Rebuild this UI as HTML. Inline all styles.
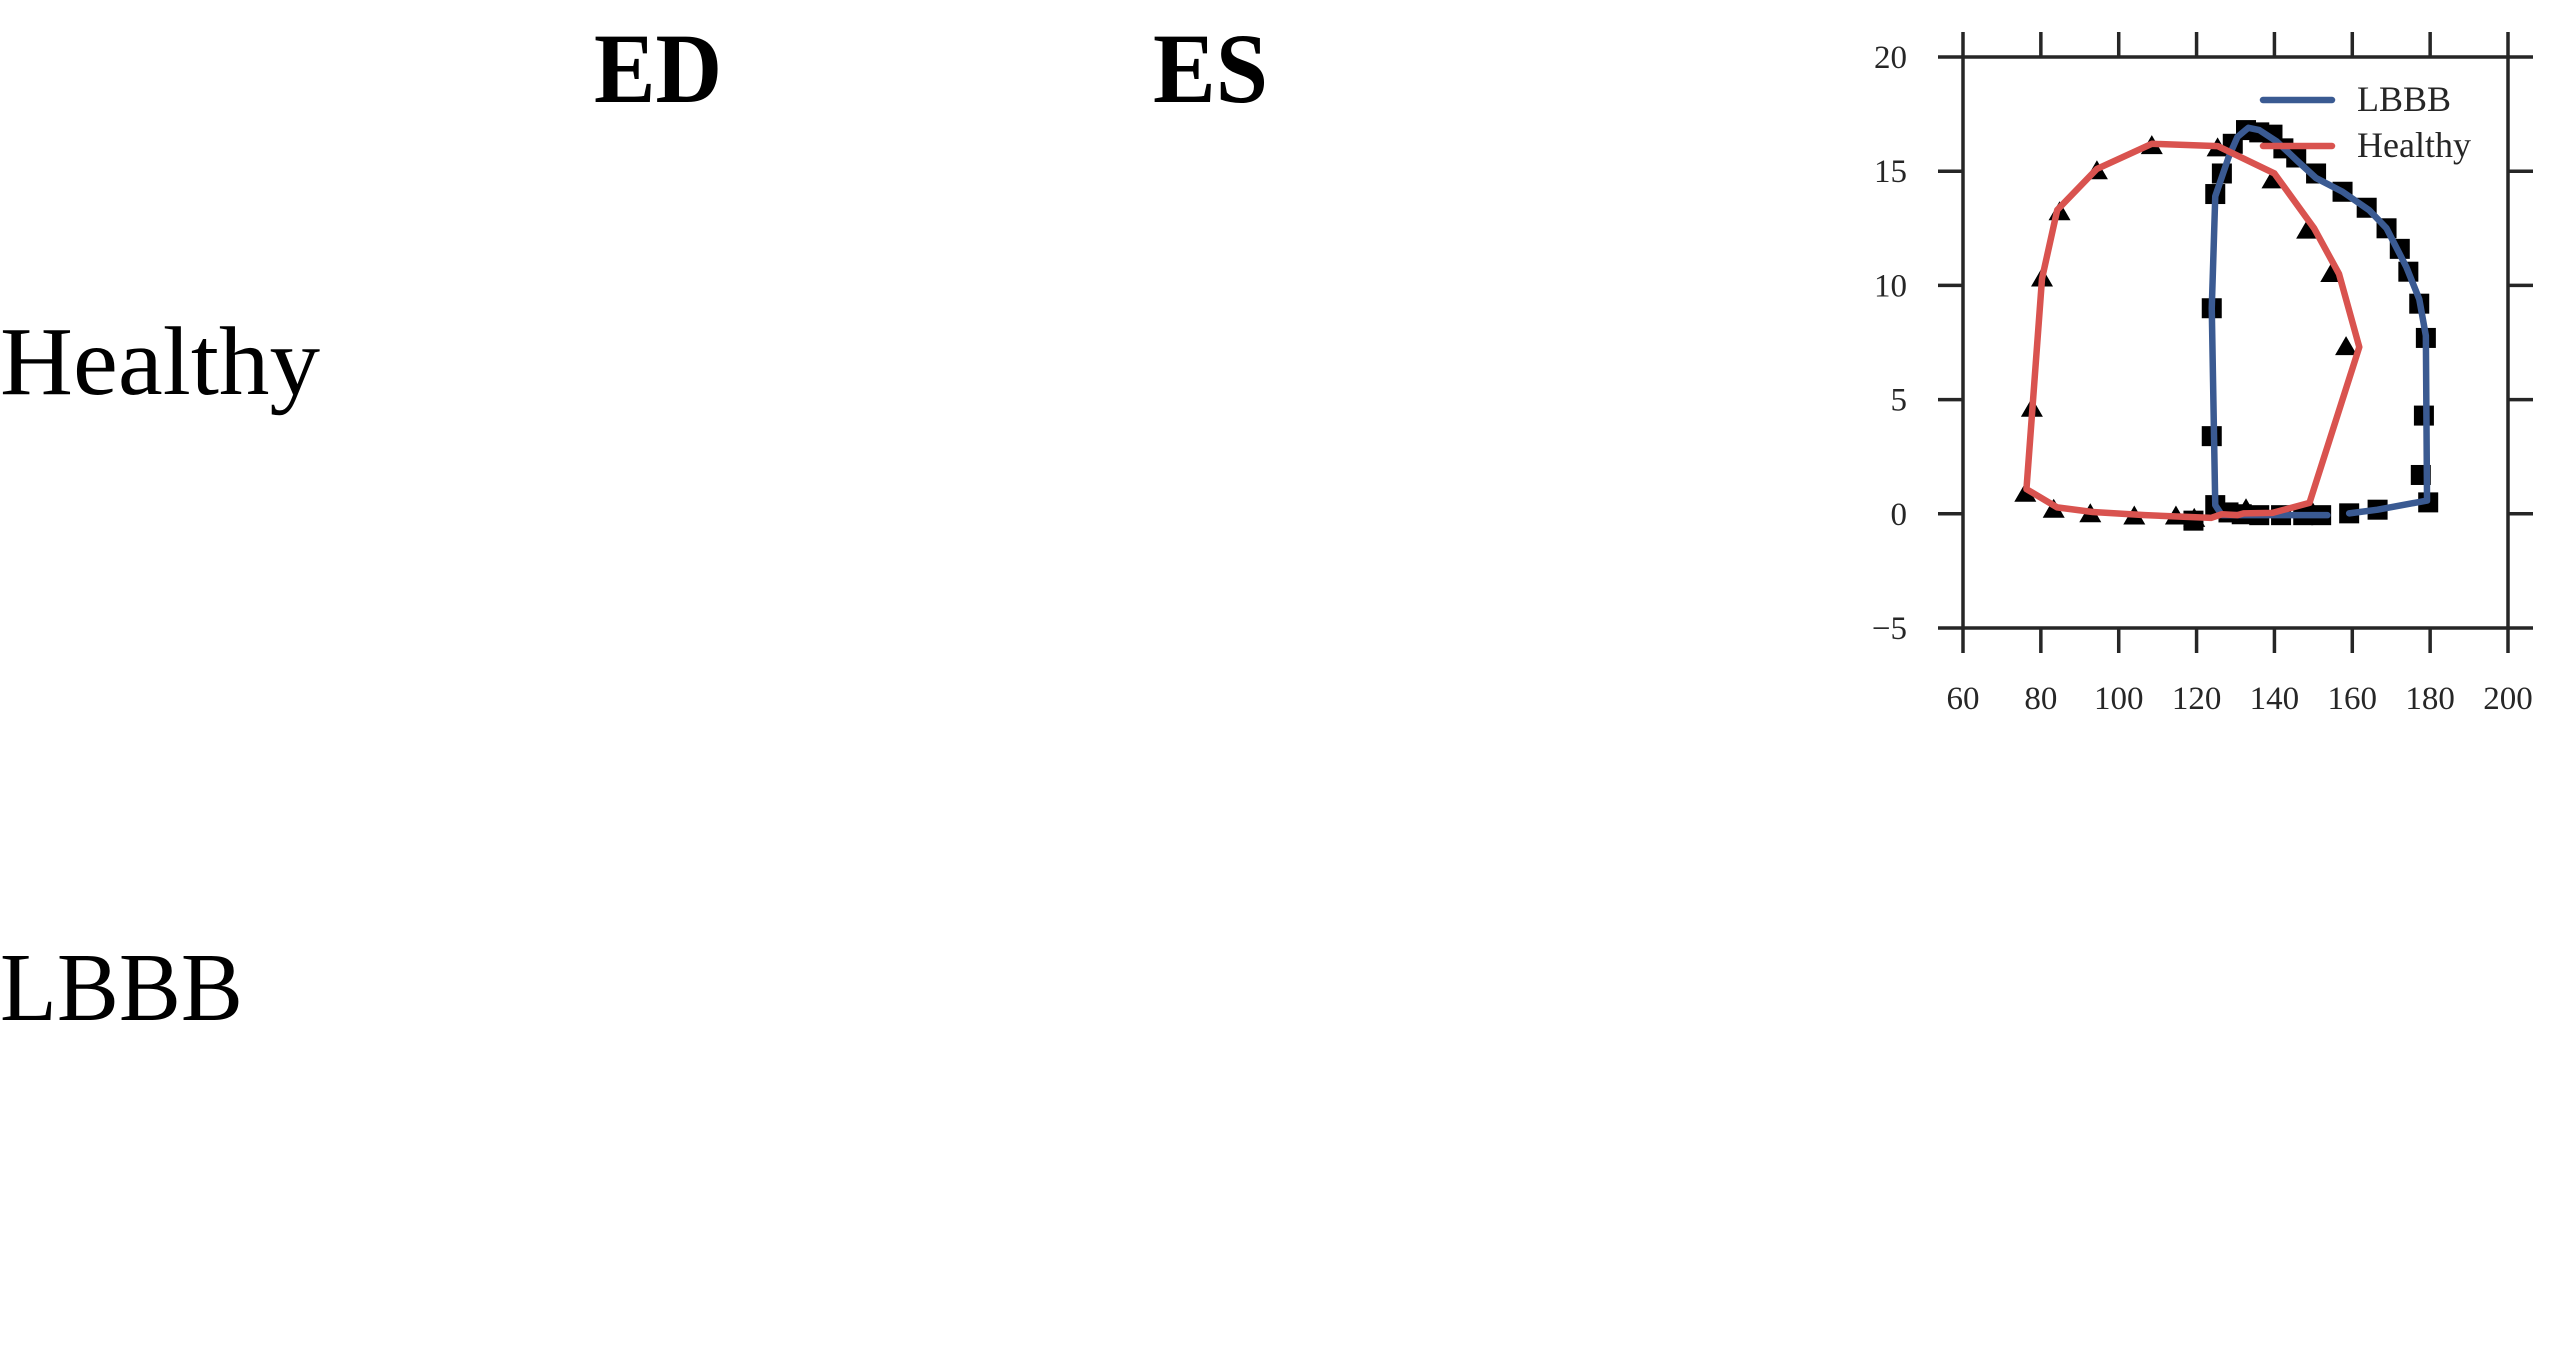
<!DOCTYPE html>
<html><head><meta charset="utf-8"><style>
html,body{margin:0;padding:0;background:#fff;}
svg{display:block;font-family:"Liberation Serif",serif;}
</style></head><body>
<svg id="fig" width="2570" height="1357" viewBox="0 0 2570 1357">
<text x="594" y="102" font-size="100" font-weight="bold" textLength="128" lengthAdjust="spacingAndGlyphs">ED</text>
<text x="1153" y="102" font-size="100" font-weight="bold" textLength="115" lengthAdjust="spacingAndGlyphs">ES</text>
<text x="0" y="394" font-size="98" textLength="320" lengthAdjust="spacingAndGlyphs">Healthy</text>
<text x="0" y="1020" font-size="98" textLength="243" lengthAdjust="spacingAndGlyphs">LBBB</text>
<g id="chart"></g>
</svg>
<script>
const xTicks=[60,80,100,120,140,160,180,200];
const yTicks=[-5,0,5,10,15,20];
const healthyX=[76.3,84.2,93.3,106.8,123.7,126.5,130.5,132.1,139.5,149,161.8,156.6,150.2,140,125.4,108.5,94.4,84.2,80.3,76.3];
const healthyY=[1.08,0.28,0.08,-0.06,-0.18,-0.02,-0.06,0.02,0.04,0.48,7.3,10.5,12.5,14.9,16.1,16.2,15.1,13.3,10.3,1.08];
const lbbbX=[159.2,166.5,179.2,178.9,177.2,173.9,168.8,164.3,157.5,150.7,146.2,140.6,136.1,133.3,130.5,128.2,124.8,123.9,124.8,126.5,153.6];
const lbbbY=[0.02,0.18,0.58,7.8,9.4,10.8,12.5,13.3,14.1,14.7,15.4,16.3,16.8,16.9,16.5,15.6,13.9,9.0,0.38,-0.06,-0.06];
const triX=[76,83.3,92.7,104,114.7,119.4,77.7,80.3,84.8,94.4,108.5,125.4,139.5,148.4,154.6,158.4,132.7,149];
const triY=[0.88,0.18,-0.02,-0.12,-0.12,-0.22,4.6,10.3,13.2,15.0,16.1,16.0,14.6,12.4,10.5,7.3,0.2,0.28];
const sqX=[123.9,123.9,124.8,126.5,129.3,132.7,136.1,139.5,142.3,145.6,150.7,157.5,163.7,168.8,172.2,174.4,177.2,178.9,178.4,177.6,179.5,166.5,159.2,152,147.4,141.7,136.1,131.6,128.2,124.8,119.2];
const sqY=[9.0,3.4,14.0,14.9,16.2,16.8,16.7,16.6,16.0,15.6,14.9,14.1,13.4,12.5,11.6,10.6,9.2,7.7,4.3,1.7,0.5,0.18,0.02,-0.06,-0.06,-0.06,-0.06,-0.02,0.06,0.38,-0.3];
const L=1963,R=2508,T=57,B=628;
const sx=v=>L+(v-60)/140*(R-L);
const sy=v=>B-(v+5)/25*(B-T);
const g=document.getElementById('chart');
const NS='http://www.w3.org/2000/svg';
function mk(tag,a){const e=document.createElementNS(NS,tag);for(const k in a)e.setAttribute(k,a[k]);g.appendChild(e);return e;}
let e=mk('rect',{x:L,y:T,width:R-L,height:B-T,fill:'none',stroke:'#262626','stroke-width':3.5});


xTicks.forEach(t=>{const x=sx(t);
 let a=mk('line',{x1:x,x2:x,y1:B,y2:B+25,stroke:'#262626','stroke-width':3.5});
 
 
 let b=mk('line',{x1:x,x2:x,y1:T,y2:T-25,stroke:'#262626','stroke-width':3.5});
 
 
 let tx=mk('text',{x:x,y:709,'font-size':33,'text-anchor':'middle',fill:'#262626'});tx.textContent=t;
 
 
});
yTicks.forEach(t=>{const y=sy(t);
 let a=mk('line',{x1:L-25,x2:L,y1:y,y2:y,stroke:'#262626','stroke-width':3.5});
 
 
 let b=mk('line',{x1:R,x2:R+25,y1:y,y2:y,stroke:'#262626','stroke-width':3.5});
 
 
 let tx=mk('text',{x:1907,y:y+11,'font-size':33,'text-anchor':'end',fill:'#262626'});tx.textContent=t<0?'\u2212'+(-t):t;
 
 
});
sqX.forEach((v,i)=>{let s=mk('rect',{x:sx(v)-10,y:sy(sqY[i])-10,width:20,height:20,fill:'#000'});
 
 });
triX.forEach((v,i)=>{const x=sx(v),y=sy(triY[i]);
 let p=mk('polygon',{points:`${x},${y-11} ${x-11},${y+8} ${x+11},${y+8}`,fill:'#000'});
 
 });
let lb=mk('polyline',{points:lbbbX.map((v,i)=>sx(v)+','+sy(lbbbY[i])).join(' '),fill:'none',stroke:'#3a5a92','stroke-width':6.5,'stroke-linejoin':'round','stroke-linecap':'round'});


let hl=mk('polyline',{points:healthyX.map((v,i)=>sx(v)+','+sy(healthyY[i])).join(' '),fill:'none',stroke:'#d9534f','stroke-width':6.5,'stroke-linejoin':'round','stroke-linecap':'round'});


[['LBBB','#3a5a92',100],['Healthy','#d9534f',146]].forEach(([n,c,y])=>{
 let l=mk('line',{x1:2263,x2:2332,y1:y,y2:y,stroke:c,'stroke-width':6.5,'stroke-linecap':'round'});
 
 
 let t=mk('text',{x:2357,y:y+11,'font-size':36,fill:'#262626'});t.textContent=n;
 
 
});
</script>
</body></html>
